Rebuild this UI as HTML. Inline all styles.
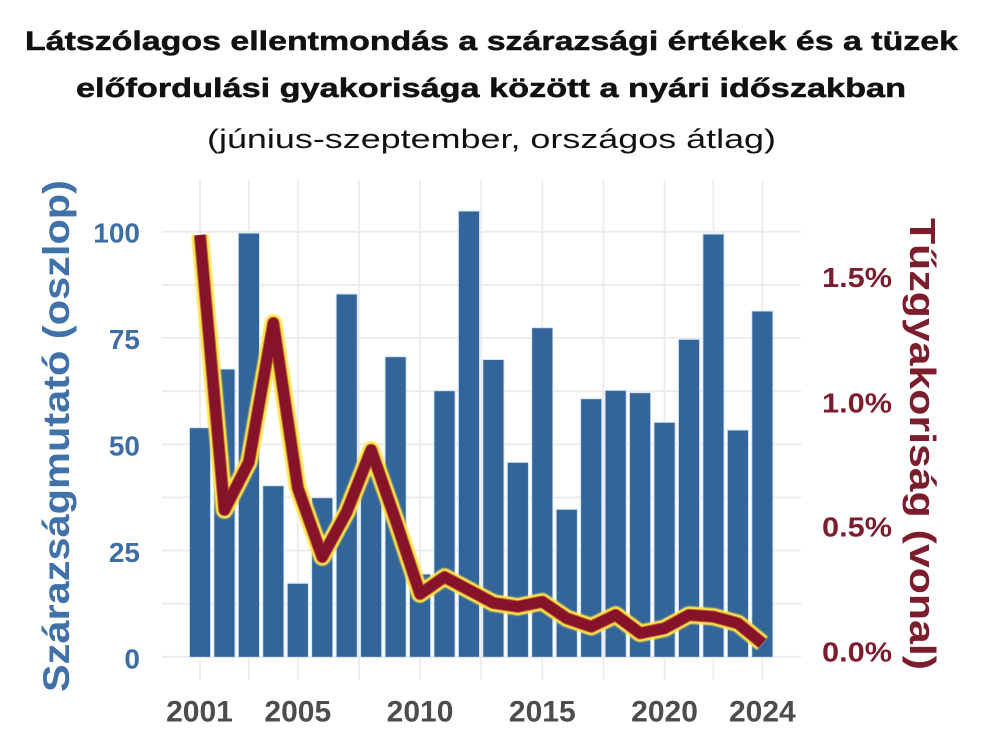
<!DOCTYPE html>
<html><head><meta charset="utf-8"><style>
html,body{margin:0;padding:0;background:#fff;}
svg{display:block;}
</style></head><body>
<svg width="982" height="754" viewBox="0 0 982 754" xmlns="http://www.w3.org/2000/svg">
<defs>
<filter id="gl" x="-10%" y="-10%" width="120%" height="120%"><feGaussianBlur stdDeviation="0.9"/></filter>
</defs>
<rect width="982" height="754" fill="#fff"/>
<!-- title -->
<g font-family="Liberation Sans, Arial, sans-serif" fill="#111">
<text x="25" y="50" font-size="27" font-weight="bold" stroke="#111" stroke-width="0.5" textLength="933" lengthAdjust="spacingAndGlyphs">Látszólagos ellentmondás a szárazsági értékek és a tüzek</text>
<text x="76" y="97" font-size="27" font-weight="bold" stroke="#111" stroke-width="0.5" textLength="830" lengthAdjust="spacingAndGlyphs">előfordulási gyakorisága között a nyári időszakban</text>
<text x="207" y="148" font-size="27" textLength="569" lengthAdjust="spacingAndGlyphs">(június-szeptember, országos átlag)</text>
</g>
<!-- gridlines -->
<g stroke="#ebebeb" stroke-width="1.8">
<line x1="162" x2="801" y1="656.8" y2="656.8"/>
<line x1="162" x2="801" y1="603.7" y2="603.7"/>
<line x1="162" x2="801" y1="550.5" y2="550.5"/>
<line x1="162" x2="801" y1="497.4" y2="497.4"/>
<line x1="162" x2="801" y1="444.3" y2="444.3"/>
<line x1="162" x2="801" y1="391.2" y2="391.2"/>
<line x1="162" x2="801" y1="338.0" y2="338.0"/>
<line x1="162" x2="801" y1="284.9" y2="284.9"/>
<line x1="162" x2="801" y1="231.8" y2="231.8"/>
<line x1="200" x2="200" y1="180" y2="680"/>
<line x1="248.9" x2="248.9" y1="180" y2="680"/>
<line x1="297.8" x2="297.8" y1="180" y2="680"/>
<line x1="359" x2="359" y1="180" y2="680"/>
<line x1="420.05" x2="420.05" y1="180" y2="680"/>
<line x1="481.2" x2="481.2" y1="180" y2="680"/>
<line x1="542.3" x2="542.3" y1="180" y2="680"/>
<line x1="603.4" x2="603.4" y1="180" y2="680"/>
<line x1="664.55" x2="664.55" y1="180" y2="680"/>
<line x1="713.45" x2="713.45" y1="180" y2="680"/>
<line x1="762.35" x2="762.35" y1="180" y2="680"/>
</g>
<!-- bars -->
<g fill="#33659a" stroke="#d4e6f5" stroke-width="1">
<rect x="189.4" y="427.7" width="21.2" height="229.6"/>
<rect x="213.85" y="369" width="21.2" height="288.3"/>
<rect x="238.3" y="233" width="21.2" height="424.3"/>
<rect x="262.75" y="485.7" width="21.2" height="171.6"/>
<rect x="287.2" y="583.3" width="21.2" height="74"/>
<rect x="311.65" y="497.7" width="21.2" height="159.6"/>
<rect x="336.1" y="294" width="21.2" height="363.3"/>
<rect x="360.55" y="462" width="21.2" height="195.3"/>
<rect x="385" y="356.7" width="21.2" height="300.6"/>
<rect x="409.45" y="574" width="21.2" height="83.3"/>
<rect x="433.9" y="390.7" width="21.2" height="266.6"/>
<rect x="458.35" y="211" width="21.2" height="446.3"/>
<rect x="482.8" y="359.5" width="21.2" height="297.8"/>
<rect x="507.25" y="462.3" width="21.2" height="195"/>
<rect x="531.7" y="327.7" width="21.2" height="329.6"/>
<rect x="556.15" y="509.3" width="21.2" height="148"/>
<rect x="580.6" y="398.7" width="21.2" height="258.6"/>
<rect x="605.05" y="390.3" width="21.2" height="267"/>
<rect x="629.5" y="392.7" width="21.2" height="264.6"/>
<rect x="653.95" y="422.3" width="21.2" height="235"/>
<rect x="678.4" y="339.3" width="21.2" height="318"/>
<rect x="702.85" y="234" width="21.2" height="423.3"/>
<rect x="727.3" y="430" width="21.2" height="227.3"/>
<rect x="751.75" y="311" width="21.2" height="346.3"/>
</g>
<!-- line -->
<g fill="none" stroke-linejoin="round" stroke-linecap="butt">
<polyline filter="url(#gl)" stroke="#fbe44e" stroke-width="17.5" points="200,235 224.45,510 248.9,462 273.35,323 297.8,488 322.25,557 346.7,512 371.15,450 395.6,520 420.05,594 444.5,577 468.95,590 493.4,603 517.85,606.7 542.3,601.7 566.75,618.3 591.2,626.7 615.65,615 640.1,633.3 664.55,628.3 689,615 713.45,616.7 737.9,623.3 762.35,643.3"/>
<polyline stroke="#c4632c" stroke-width="12.5" points="200,235 224.45,510 248.9,462 273.35,323 297.8,488 322.25,557 346.7,512 371.15,450 395.6,520 420.05,594 444.5,577 468.95,590 493.4,603 517.85,606.7 542.3,601.7 566.75,618.3 591.2,626.7 615.65,615 640.1,633.3 664.55,628.3 689,615 713.45,616.7 737.9,623.3 762.35,643.3"/>
<polyline stroke="#86132a" stroke-width="10.5" points="200,235 224.45,510 248.9,462 273.35,323 297.8,488 322.25,557 346.7,512 371.15,450 395.6,520 420.05,594 444.5,577 468.95,590 493.4,603 517.85,606.7 542.3,601.7 566.75,618.3 591.2,626.7 615.65,615 640.1,633.3 664.55,628.3 689,615 713.45,616.7 737.9,623.3 762.35,643.3"/>
</g>
<!-- left axis labels -->
<g font-family="Liberation Sans, Arial, sans-serif" font-weight="bold" font-size="28" fill="#3e6ea3" text-anchor="end">
<text x="140" y="242.7">100</text>
<text x="140" y="349.2">75</text>
<text x="140" y="455.7">50</text>
<text x="140" y="562.1">25</text>
<text x="140" y="668.6">0</text>
</g>
<text transform="translate(69,436) rotate(-90)" text-anchor="middle" font-family="Liberation Sans, Arial, sans-serif" font-weight="bold" font-size="37" fill="#4071a8" textLength="512" lengthAdjust="spacingAndGlyphs">Szárazságmutató  (oszlop)</text>
<!-- right axis labels -->
<g font-family="Liberation Sans, Arial, sans-serif" font-weight="bold" font-size="28" fill="#7b1d2d">
<text x="822" y="287" textLength="70" lengthAdjust="spacingAndGlyphs">1.5%</text>
<text x="822" y="412.7" textLength="70" lengthAdjust="spacingAndGlyphs">1.0%</text>
<text x="822" y="536.7" textLength="70" lengthAdjust="spacingAndGlyphs">0.5%</text>
<text x="822" y="661.7" textLength="70" lengthAdjust="spacingAndGlyphs">0.0%</text>
</g>
<text transform="translate(910,444) rotate(90)" text-anchor="middle" font-family="Liberation Sans, Arial, sans-serif" font-weight="bold" font-size="36" fill="#7b1d2d" textLength="452" lengthAdjust="spacingAndGlyphs">Tűzgyakoriság (vonal)</text>
<!-- x axis labels -->
<g font-family="Liberation Sans, Arial, sans-serif" font-weight="bold" font-size="30" fill="#4d4d4d" text-anchor="middle">
<text x="199.5" y="721.7">2001</text>
<text x="297.8" y="721.7">2005</text>
<text x="420.05" y="721.7">2010</text>
<text x="542.3" y="721.7">2015</text>
<text x="664.55" y="721.7">2020</text>
<text x="762.35" y="721.7">2024</text>
</g>
</svg>
</body></html>
